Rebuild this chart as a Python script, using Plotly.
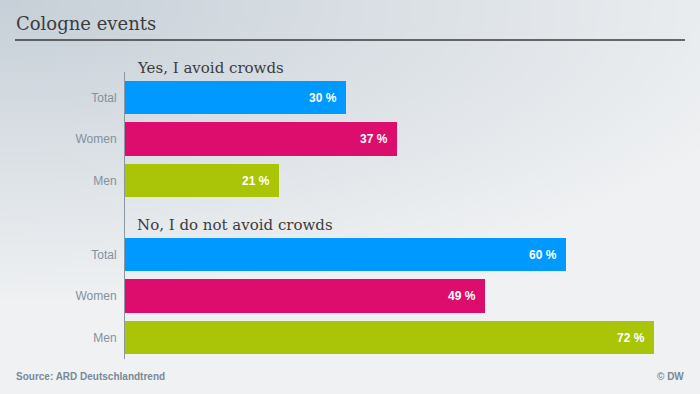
import base64, struct, zlib
import numpy as np
import plotly.graph_objects as go

# ---------------- data ----------------
groups = ["Yes, I avoid crowds", "No, I do not avoid crowds"]
categories = ["Total", "Women", "Men"]
yes_values = [30, 37, 21]
no_values = [60, 49, 72]
bar_colors = ["#0099ff", "#dc0d6d", "#aac408"]
title_text = "Cologne events"
source_text = "Source: ARD Deutschlandtrend"
credit_text = "© DW"

# ---------------- layout helpers ----------------
W, H = 700, 394
ML, MR, MT, MB = 125, 25, 72, 35
PW, PH = W - ML - MR, H - MT - MB


def px(x):
    return (x - ML) / PW


def py(y):
    return (H - MB - y) / PH


# gradient background as PNG data URI
def gradient_png(w=175, h=99):
    xs = np.linspace(0, 1, w)[None, :]
    ys = np.linspace(0, 1, h)[:, None]
    t = np.clip(np.sqrt((xs * W / 800) ** 2 + (ys * H / 300) ** 2), 0, 1)
    c0 = np.array([199, 208, 216])
    c1 = np.array([239, 241, 243])
    img = (c0[None, None, :] * (1 - t[..., None]) + c1[None, None, :] * t[..., None]).astype(np.uint8)
    raw = b"".join(b"\x00" + img[r].tobytes() for r in range(h))

    def chunk(tag, data):
        c = struct.pack(">I", len(data)) + tag + data
        return c + struct.pack(">I", zlib.crc32(tag + data) & 0xffffffff)

    png = b"\x89PNG\r\n\x1a\n" + chunk(b"IHDR", struct.pack(">IIBBBBB", w, h, 8, 2, 0, 0, 0))
    png += chunk(b"IDAT", zlib.compress(raw, 9)) + chunk(b"IEND", b"")
    return "data:image/png;base64," + base64.b64encode(png).decode()


gap = 0.78
fig = go.Figure()
tickvals, ticktext = [], []
for g, vals in enumerate([yes_values, no_values]):
    pos = [i + g * (len(categories) + gap) for i in range(len(categories))]
    tickvals += pos
    ticktext += categories
    fig.add_trace(go.Bar(
        x=vals, y=pos, orientation="h", width=0.8,
        marker=dict(color=bar_colors, line=dict(width=0)),
        text=[f"{v} %\u00a0\u00a0" for v in vals],
        textposition="inside", insidetextanchor="end",
        textfont=dict(family="Liberation Sans", size=12, color="white", weight="bold"),
        hoverinfo="skip", showlegend=False, cliponaxis=False,
    ))

fig.update_layout(
    width=W, height=H,
    margin=dict(l=ML, r=MR, t=MT, b=MB),
    paper_bgcolor="#eef0f2", plot_bgcolor="rgba(0,0,0,0)",
    bargap=0,
    xaxis=dict(range=[0, 74.8], showgrid=False, zeroline=False, showticklabels=False, fixedrange=True),
    yaxis=dict(range=[6.30, -0.614], tickvals=tickvals, ticktext=ticktext,
               showgrid=False, zeroline=False, showline=True, linecolor="#8b97a4", linewidth=1,
               ticks="", ticklabelstandoff=5, fixedrange=True,
               tickfont=dict(family="Liberation Sans", size=12, color="#8391a0")),
    images=[dict(source=gradient_png(), xref="paper", yref="paper",
                 x=px(0), y=py(0), sizex=W / PW, sizey=H / PH,
                 sizing="stretch", layer="below", xanchor="left", yanchor="top")],
    shapes=[dict(type="line", xref="paper", yref="paper",
                 x0=px(15), x1=px(685), y0=py(40), y1=py(40),
                 line=dict(color="#3a3a3a", width=1.5))],
)

annots = [
    dict(text=title_text, x=px(14), y=py(23), xanchor="left", yanchor="middle",
         font=dict(family="DejaVu Serif", size=18, color="#3c3c3c")),
    dict(text=groups[0], x=px(135), y=py(68), xanchor="left", yanchor="middle",
         font=dict(family="DejaVu Serif", size=15, color="#3c3c3c")),
    dict(text=groups[1], x=px(135), y=py(225), xanchor="left", yanchor="middle",
         font=dict(family="DejaVu Serif", size=15, color="#3c3c3c")),
    dict(text=source_text, x=px(14), y=py(376), xanchor="left", yanchor="middle",
         font=dict(family="Liberation Sans", size=10, color="#7a8998", weight="bold")),
    dict(text=credit_text, x=px(686), y=py(376), xanchor="right", yanchor="middle",
         font=dict(family="Liberation Sans", size=10, color="#7a8998", weight="bold")),
]
for a in annots:
    fig.add_annotation(xref="paper", yref="paper", showarrow=False, **a)

fig.write_html("out.html", config={"displayModeBar": False},
               post_script="document.body.style.margin='0';")
